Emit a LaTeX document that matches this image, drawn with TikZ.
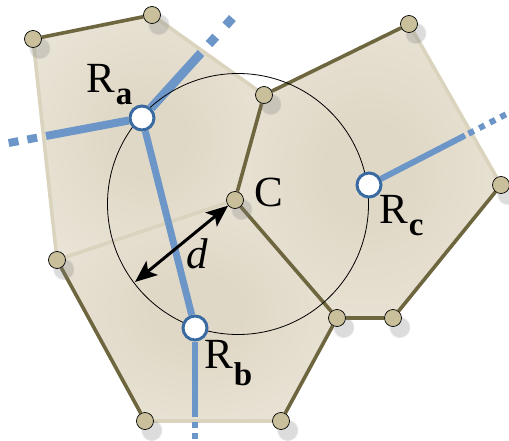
\documentclass[tikz,border=0pt]{standalone}
\usepackage{fontspec}
\setmainfont{Liberation Serif}
\usetikzlibrary{arrows.meta,backgrounds,shadows,fadings}
\definecolor{regin}{RGB}{224,216,198}
\definecolor{regout}{RGB}{246,244,238}
\definecolor{edgedark}{RGB}{110,102,62}
\definecolor{edgelight}{RGB}{218,212,190}
\definecolor{vfill}{RGB}{201,192,155}
\definecolor{blueline}{RGB}{108,150,200}
\definecolor{siteedge}{RGB}{58,106,162}
\pgfdeclareradialshading{regshade}{\pgfpoint{0bp}{0bp}}{color(0bp)=(regin); color(8bp)=(regin); color(60bp)=(regout)}
\newcommand{\Rsub}[2]{R\kern1pt\raisebox{-#2}{\fontsize{33}{33}\selectfont\bfseries #1}}
\begin{document}
\begin{tikzpicture}[x=1pt,y=-1pt,
  vtx/.style={circle,draw=black,line width=0.7pt,fill=vfill,minimum size=17pt,inner sep=0pt,
    circular drop shadow={shadow xshift=5pt,shadow yshift=-7pt,shadow scale=1.3,opacity=0.28}},
  site/.style={circle,draw=siteedge,line width=3pt,fill=white,minimum size=24pt,inner sep=0pt},
  darkedge/.style={draw=edgedark,line width=3.6pt},
  lightedge/.style={draw=edgelight,line width=3.6pt},
  blue/.style={draw=blueline},
  lbl/.style={anchor=base west,inner sep=0pt,font=\fontsize{43}{43}\selectfont},
  darrow/.style={{Stealth[length=22pt,width=18pt,inset=5pt]}-{Stealth[length=22pt,width=18pt,inset=5pt]},line width=3pt}]
\useasboundingbox (0,0) rectangle (509,441);
% Voronoi vertices
\node[vtx] (v1) at (33,39) {};
\node[vtx] (v2) at (152,15) {};
\node[vtx] (v3) at (264,95) {};
\node[vtx] (v4) at (409,24) {};
\node[vtx] (v5) at (501,185) {};
\node[vtx] (v6) at (393,318) {};
\node[vtx] (v7) at (337,318) {};
\node[vtx] (v8) at (235,200) {};
\node[vtx] (v9) at (57,260) {};
\node[vtx] (v10) at (145,421) {};
\node[vtx] (v11) at (281,421) {};
% sites
\node[site] (ra) at (142,118) {};
\node[site] (rb) at (195,328) {};
\node[site] (rc) at (369,185) {};
% free ends
\coordinate (cc) at (238,204);
\coordinate (ra1) at (201,53);
\coordinate (ra2) at (237,13);
\coordinate (ra3) at (46,136);
\coordinate (ra4) at (6,143.5);
\coordinate (rc1) at (465,135.5);
\coordinate (rc2) at (509,112.8);
\coordinate (rb1) at (195,417);
\coordinate (rb2) at (195,441);
\coordinate (dtip) at (135,282);
\begin{scope}[on background layer]
  \shade[shading=regshade] (v1.center)--(v2.center)--(v3.center)--(v8.center)--(v9.center)--cycle;
  \shade[shading=regshade] (v3.center)--(v4.center)--(v5.center)--(v6.center)--(v7.center)--(v8.center)--cycle;
  \shade[shading=regshade] (v8.center)--(v7.center)--(v11.center)--(v10.center)--(v9.center)--cycle;
  \path[lightedge] (v1)--(v9) (v2)--(v3) (v9)--(v8) (v4)--(v5) (v10)--(v11);
  \path[darkedge] (v1)--(v2) (v3)--(v4) (v3)--(v8) (v8)--(v7) (v7)--(v6) (v6)--(v5) (v7)--(v11) (v9)--(v10);
  \path[blue,line width=7pt] (ra)--(rb);
  \path[blue,line width=9pt] (ra)--(ra1);
  \path[blue,line width=9pt,dash pattern=on 10pt off 15pt,dash phase=13pt] (ra1)--(ra2);
  \path[blue,line width=8pt] (ra)--(ra3);
  \path[blue,line width=8pt,dash pattern=on 10pt off 9pt,dash phase=10pt] (ra3)--(ra4);
  \path[blue,line width=6pt] (rc)--(rc1);
  \path[blue,line width=6pt,dash pattern=on 6pt off 6pt,dash phase=8pt] (rc1)--(rc2);
  \path[blue,line width=6pt] (rb)--(rb1);
  \path[blue,line width=6pt,dash pattern=on 6pt off 5pt,dash phase=6pt] (rb1)--(rb2);
  \draw[line width=0.8pt] (cc) circle[radius=130.5pt];
\end{scope}
\draw[darrow] (dtip) -- (v8);
% labels
\node[lbl] (la) at (86,93) {\Rsub{a}{12pt}};
\node[lbl] (lb) at (204,368) {\Rsub{b}{17pt}};
\node[lbl] (lc) at (379,223) {\Rsub{c}{12pt}};
\node[lbl] (lC) at (254,207) {C};
\node[lbl] (ld) at (186,268) {\itshape d};
\end{tikzpicture}
\end{document}
